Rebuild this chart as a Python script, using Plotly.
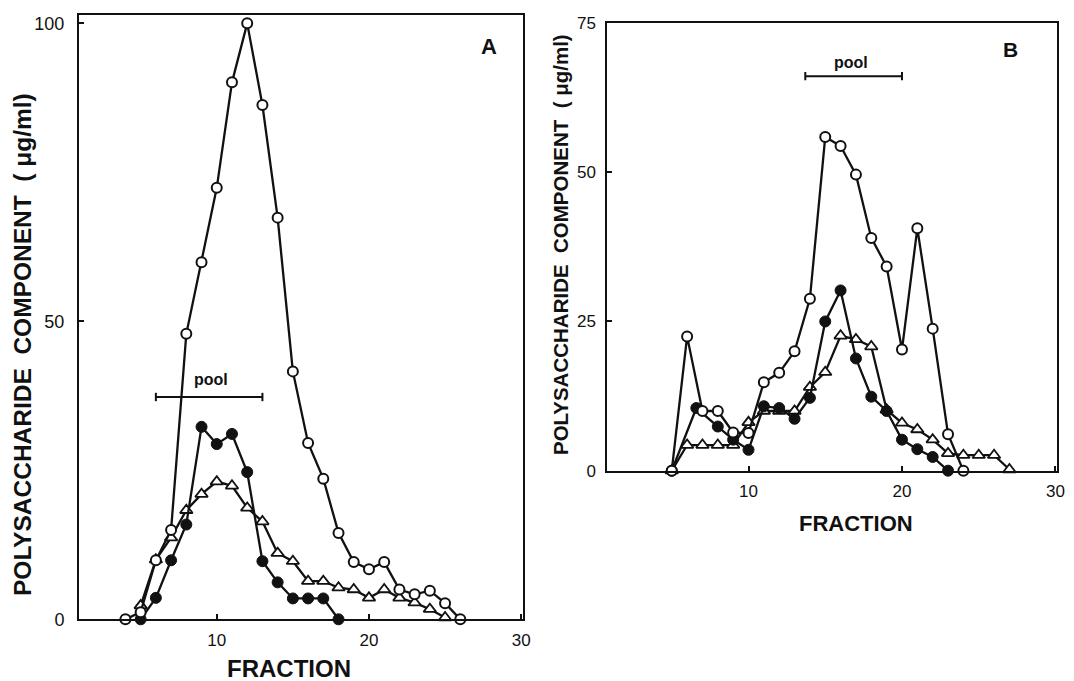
import plotly.graph_objects as go

# ---------------- Panel A data ----------------
a_open_x = [4, 5, 6, 7, 8, 9, 10, 11, 12, 13, 14, 15, 16, 17, 18, 19, 20, 21, 22, 23, 24, 25, 26]
a_open_y = [0, 1.2, 9.9, 15, 47.9, 59.9, 72.4, 90.1, 100, 86.3, 67.4, 41.6, 29.6, 23.6, 14.5,
            9.6, 8.4, 9.6, 5, 4.2, 4.8, 2.7, 0]
a_fill_x = [5, 6, 7, 8, 9, 10, 11, 12, 13, 14, 15, 16, 17, 18]
a_fill_y = [0, 3.6, 9.9, 15.9, 32.3, 29.4, 31.1, 24.7, 9.75, 6.2, 3.5, 3.5, 3.5, 0]
a_tri_x = [5, 6, 7, 8, 9, 10, 11, 12, 13, 14, 15, 16, 17, 18, 19, 20, 21, 22, 23, 24, 25]
a_tri_y = [2.3, 10, 13.7, 18.3, 21, 23.1, 22.4, 18.7, 16.4, 11.1, 9.75, 6.4, 6.4, 5.3, 5,
           3.6, 5, 3.6, 2.8, 1.7, 0.3]
a_pool = [6, 13]
a_pool_level = 37.3

# ---------------- Panel B data ----------------
b_open_x = [5, 6, 7, 8, 9, 10, 11, 12, 13, 14, 15, 16, 17, 18, 19, 20, 21, 22, 23, 24]
b_open_y = [0, 22.5, 10, 10, 6.4, 6.3, 14.8, 16.4, 20, 28.8, 55.9, 54.4, 49.6, 39, 34.2,
            20.3, 40.6, 23.8, 6.1, 0]
b_fill_x = [5, 6.6, 8, 9, 10, 11, 12, 13, 14, 15, 16, 17, 18, 19, 20, 21, 22, 23]
b_fill_y = [0, 10.5, 7.4, 5.2, 3.5, 10.8, 10.5, 8.7, 12.2, 25, 30.2, 18.8, 12.4, 10, 5.2,
            3.6, 2.3, 0]
b_tri_x = [5, 6, 7, 8, 9, 10, 11, 12, 13, 14, 15, 16, 17, 18, 19, 20, 21, 22, 23, 24, 25, 26, 27]
b_tri_y = [0, 4.3, 4.3, 4.3, 4.3, 8.1, 10, 10, 10, 14, 16.5, 22.6, 22, 20.8, 10.2, 8, 6.9,
           5.2, 2.9, 2.6, 2.6, 2.6, 0.2]
b_pool = [13.7, 20]
b_pool_level = 66.1

x_ticks = [10, 20, 30]
a_y_ticks = [0, 50, 100]
b_y_ticks = [0, 25, 50, 75]

FONT = "Liberation Sans, Arial, sans-serif"
BLACK = "#111111"
OFF = 8  # page body margin of the viewer
W, H = 1074 - OFF, 681 - OFF


def px(x):
    return (x - OFF) / W


def py(y):
    return 1 - (y - OFF) / H


fig = go.Figure()


def add_series(xs, ys, xa, ya, kind):
    if kind == "open":
        marker = dict(symbol="circle", size=10, color="white", line=dict(color=BLACK, width=2))
    elif kind == "fill":
        marker = dict(symbol="circle", size=11, color=BLACK, line=dict(color=BLACK, width=1))
    else:
        marker = dict(symbol="triangle-up", size=11, color="white", line=dict(color=BLACK, width=1.8))
    fig.add_trace(go.Scatter(x=xs, y=ys, xaxis=xa, yaxis=ya, mode="lines+markers",
                             line=dict(color=BLACK, width=2.3), marker=marker,
                             cliponaxis=False, showlegend=False, hoverinfo="skip"))


add_series(a_tri_x, a_tri_y, "x", "y", "tri")
add_series(a_fill_x, a_fill_y, "x", "y", "fill")
add_series(a_open_x, a_open_y, "x", "y", "open")
add_series(b_tri_x, b_tri_y, "x2", "y2", "tri")
add_series(b_fill_x, b_fill_y, "x2", "y2", "fill")
add_series(b_open_x, b_open_y, "x2", "y2", "open")

# pool brackets
for pool, lvl, xr, yr in [(a_pool, a_pool_level, "x", "y"), (b_pool, b_pool_level, "x2", "y2")]:
    fig.add_shape(type="line", xref=xr, yref=yr, x0=pool[0], x1=pool[1], y0=lvl, y1=lvl,
                  line=dict(color=BLACK, width=2))
    for p in pool:
        fig.add_shape(type="line", xref=xr, yref=yr, x0=p, x1=p, y0=lvl - 0.7, y1=lvl + 0.7,
                      line=dict(color=BLACK, width=2))

axis_common = dict(showline=True, linecolor=BLACK, linewidth=2, mirror=True,
                   showgrid=False, zeroline=False, ticks="inside", ticklen=5, tickwidth=2,
                   tickcolor=BLACK, automargin=False,
                   tickfont=dict(family=FONT, size=17, color=BLACK))

fig.update_layout(
    width=W, height=H, autosize=False,
    margin=dict(l=0, r=0, t=0, b=0, pad=0),
    paper_bgcolor="white", plot_bgcolor="white",
    xaxis=dict(axis_common, domain=[px(79), px(522.7)], range=[0.95, 30.1],
               tickvals=x_ticks, ticktext=[str(v) for v in x_ticks], anchor="y",
               ticklabelstandoff=4),
    yaxis=dict(axis_common, domain=[py(619.3), py(15)], range=[0, 101.4],
               tickvals=a_y_ticks, ticktext=[str(v) for v in a_y_ticks], anchor="x",
               ticklabelstandoff=9, tickfont=dict(family=FONT, size=18, color=BLACK)),
    xaxis2=dict(axis_common, domain=[px(607.3), px(1057)], range=[0.8, 30.1],
                tickvals=x_ticks, ticktext=[str(v) for v in x_ticks], anchor="y2",
                ticklabelstandoff=4),
    yaxis2=dict(axis_common, domain=[py(470.7), py(23)], range=[0, 75],
                tickvals=b_y_ticks, ticktext=[str(v) for v in b_y_ticks], anchor="x2",
                ticklabelstandoff=6, tickfont=dict(family=FONT, size=17, color=BLACK)),
)

ytitle = "POLYSACCHARIDE\u00a0\u00a0COMPONENT\u00a0\u00a0(\u00a0\u03bcg/ml)"
C = dict(showarrow=False, xanchor="center", yanchor="middle")
ann = [
    dict(C, text=ytitle, x=px(22), y=py(345), xref="paper", yref="paper", textangle=-90,
         font=dict(family=FONT, size=24.5, color=BLACK, weight="bold")),
    dict(C, text=ytitle, x=px(560), y=py(245), xref="paper", yref="paper", textangle=-90,
         font=dict(family=FONT, size=20.5, color=BLACK, weight="bold")),
    dict(C, text="FRACTION", x=px(289), y=py(668), xref="paper", yref="paper",
         font=dict(family=FONT, size=24, color=BLACK, weight="bold")),
    dict(C, text="FRACTION", x=px(856), y=py(523), xref="paper", yref="paper",
         font=dict(family=FONT, size=22, color=BLACK, weight="bold")),
    dict(C, text="A", x=27.9, y=96.1, xref="x", yref="y",
         font=dict(family=FONT, size=22, color=BLACK, weight="bold")),
    dict(C, text="B", x=27.07, y=70.5, xref="x2", yref="y2",
         font=dict(family=FONT, size=21, color=BLACK, weight="bold")),
    dict(C, text="pool", x=sum(a_pool) / 2 + 0.1, y=a_pool_level + 2.9, xref="x", yref="y",
         font=dict(family=FONT, size=16, color=BLACK, weight="bold")),
    dict(C, text="pool", x=sum(b_pool) / 2 - 0.2, y=b_pool_level + 2.3, xref="x2", yref="y2",
         font=dict(family=FONT, size=16, color=BLACK, weight="bold")),
]
fig.update_layout(annotations=ann)

fig.write_html("out.html")
